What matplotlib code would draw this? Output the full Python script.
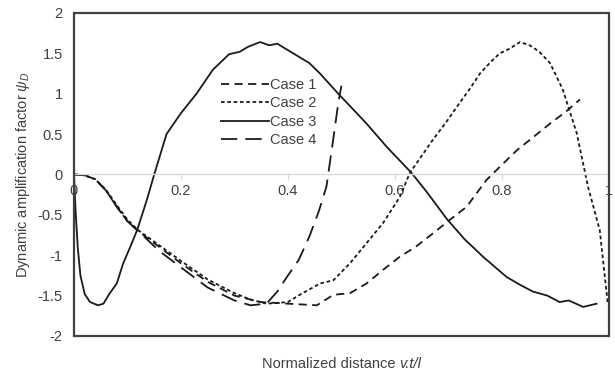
import numpy as np
import matplotlib
matplotlib.use('Agg')
import matplotlib.pyplot as plt
from matplotlib.patches import Rectangle
from matplotlib.offsetbox import TextArea, HPacker, AnchoredOffsetbox

plt.rcParams['font.family'] = ['Liberation Sans', 'DejaVu Sans']
plt.rcParams['font.size'] = 10.5
plt.rcParams['mathtext.fontset'] = 'custom'
plt.rcParams['mathtext.rm'] = 'Liberation Sans'
plt.rcParams['mathtext.it'] = 'Liberation Sans:italic'

# Case 1 : dashes
x1 = [0, 0.02, 0.04, 0.06, 0.08, 0.10, 0.12, 0.16, 0.20, 0.25, 0.30, 0.35, 0.40, 0.454,
      0.485, 0.516, 0.547, 0.578, 0.609, 0.64, 0.671, 0.703, 0.734, 0.771, 0.80, 0.828, 0.86,
      0.89, 0.92, 0.946]
y1 = [0, -0.01, -0.06, -0.2, -0.4, -0.58, -0.7, -0.9, -1.1, -1.33, -1.5, -1.58, -1.6, -1.62,
      -1.49, -1.47, -1.35, -1.18, -1.02, -0.89, -0.73, -0.56, -0.40, -0.07, 0.12, 0.30, 0.47,
      0.63, 0.78, 0.93]
# Case 2 : short dashes
x2 = [0, 0.02, 0.04, 0.06, 0.08, 0.10, 0.12, 0.16, 0.20, 0.25, 0.30, 0.33, 0.36, 0.40, 0.422,
      0.46, 0.485, 0.516, 0.547, 0.578, 0.609, 0.628, 0.65, 0.671, 0.695, 0.716, 0.74, 0.759,
      0.78, 0.796, 0.815, 0.834, 0.852, 0.87, 0.89, 0.914, 0.94, 0.961, 0.983, 0.998]
y2 = [0, -0.01, -0.06, -0.19, -0.38, -0.56, -0.69, -0.88, -1.07, -1.3, -1.47, -1.55, -1.6, -1.58,
      -1.49, -1.35, -1.31, -1.1, -0.85, -0.6, -0.28, 0.02, 0.23, 0.43, 0.64, 0.84, 1.06, 1.25,
      1.40, 1.5, 1.56, 1.64, 1.6, 1.52, 1.38, 1.05, 0.51, -0.15, -0.69, -1.6]
# Case 3 : solid
x3 = [0, 0.003, 0.007, 0.012, 0.02, 0.03, 0.045, 0.055, 0.067, 0.08, 0.092, 0.105, 0.118,
      0.136, 0.15, 0.173, 0.20, 0.229, 0.26, 0.29, 0.31, 0.325, 0.348, 0.365, 0.38, 0.41,
      0.44, 0.46, 0.497, 0.52, 0.547, 0.585, 0.631, 0.66, 0.697, 0.73, 0.765, 0.809, 0.835,
      0.858, 0.885, 0.908, 0.925, 0.952, 0.977]
y3 = [0, -0.45, -0.9, -1.25, -1.48, -1.58, -1.62, -1.6, -1.47, -1.35, -1.1, -0.9, -0.69,
      -0.32, 0, 0.5, 0.76, 1.0, 1.3, 1.49, 1.52, 1.58, 1.64, 1.6, 1.62, 1.5,
      1.38, 1.25, 0.98, 0.82, 0.63, 0.34, 0.02, -0.22, -0.55, -0.8, -1.02, -1.27, -1.37,
      -1.45, -1.5, -1.58, -1.56, -1.64, -1.6]
# Case 4 : long dashes
x4 = [0, 0.02, 0.04, 0.06, 0.08, 0.10, 0.12, 0.16, 0.20, 0.25, 0.30, 0.33, 0.36, 0.38, 0.398,
      0.42, 0.44, 0.458, 0.472, 0.485, 0.494, 0.50]
y4 = [0, -0.01, -0.06, -0.2, -0.4, -0.58, -0.7, -0.95, -1.15, -1.4, -1.56, -1.62, -1.6, -1.45,
      -1.27, -1.06, -0.77, -0.45, -0.15, 0.45, 0.88, 1.1]

xticks = [0, 0.2, 0.4, 0.6, 0.8, 1]
yticks = [-2, -1.5, -1, -0.5, 0, 0.5, 1, 1.5, 2]

C = '#1a1a1a'
TXT = '#404040'
fig = plt.figure(figsize=(6.15, 3.79), dpi=100)
ax = fig.add_axes([0.1203, 0.1135, 0.8697, 0.8522])

ax.plot(x1, y1, color=C, lw=1.3, dashes=(4.5, 3), label='Case 1')
ax.plot(x2, y2, color=C, lw=1.3, dashes=(2, 1.5), label='Case 2')
ax.plot(x3, y3, color=C, lw=1.3, label='Case 3')
ax.plot(x4, y4, color=C, lw=1.3, dashes=(9, 4.5), label='Case 4')

ax.set_xlim(0, 1)
ax.set_ylim(-2, 2)
ax.set_xticks(xticks)
ax.set_xticklabels(['%g' % v for v in xticks])
ax.set_yticks(yticks)
ax.set_yticklabels(['%g' % v for v in yticks])

for s in ('top', 'right', 'left'):
    ax.spines[s].set_visible(False)
ax.add_patch(Rectangle((0, 0), 1, 1, transform=ax.transAxes, fill=False,
                       edgecolor='#404040', lw=1.6, clip_on=False, zorder=5))
ax.spines['bottom'].set_position(('data', 0))
ax.spines['bottom'].set_color('#d9d9d9')
ax.spines['bottom'].set_linewidth(1)
ax.tick_params(axis='x', length=4, color='#d9d9d9', pad=3, labelcolor=TXT, labelsize=10.5)
ax.tick_params(axis='y', length=0, pad=8, labelcolor=TXT, labelsize=10.5)

ax.set_ylabel(r'Dynamic amplification factor $\psi_D$', color=TXT, fontsize=10.5, labelpad=4)

# x label: plain part + italic part
xl = HPacker(children=[TextArea('Normalized distance', textprops=dict(color=TXT, fontsize=10.5)),
                       TextArea('v.t/l', textprops=dict(color=TXT, fontsize=10.5, style='italic'))],
             align='baseline', pad=0, sep=3)
ax.add_artist(AnchoredOffsetbox(loc='center', child=xl, frameon=False, pad=0, borderpad=0,
                                bbox_to_anchor=(0.5, -0.088), bbox_transform=ax.transAxes))

ax.legend(loc='upper left', bbox_to_anchor=(0.255, 0.83), frameon=False, handlelength=3.3,
          handletextpad=0.1, labelspacing=0.3, borderpad=0.2, labelcolor=TXT, fontsize=10.5)

fig.savefig('out.png', dpi=100)
